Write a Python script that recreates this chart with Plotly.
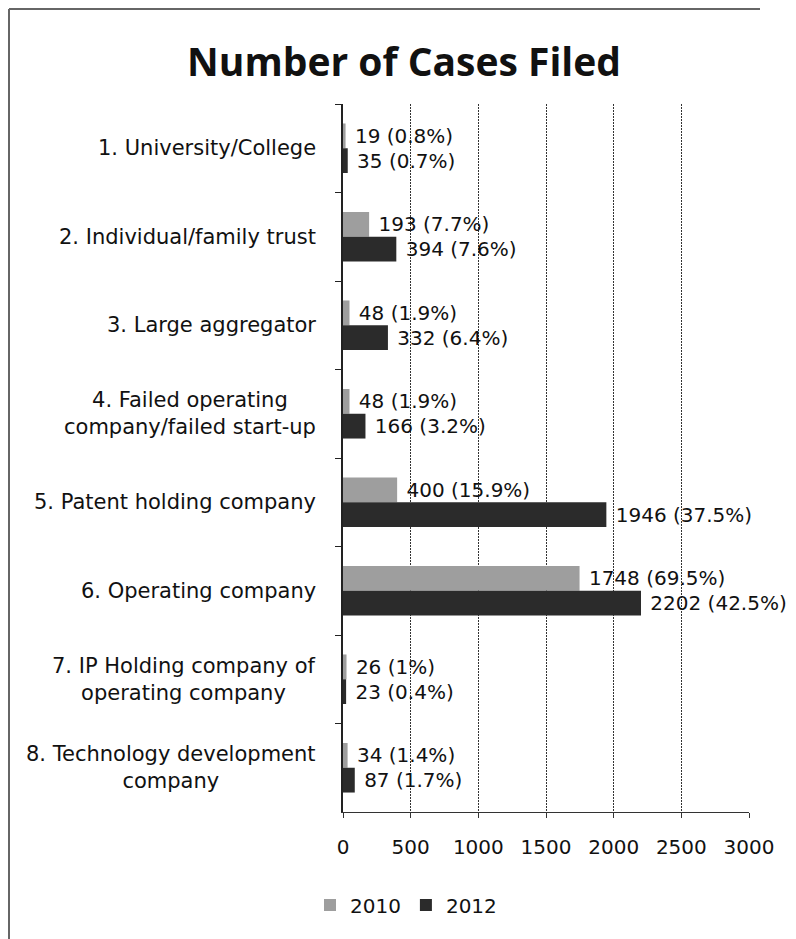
import plotly.graph_objects as go

categories = [
    "1. University/College",
    "2. Individual/family trust",
    "3. Large aggregator",
    "4. Failed operating<br>company/failed start-up",
    "5. Patent holding company",
    "6. Operating company",
    "7. IP Holding company of<br>operating company",
    "8. Technology development<br>company",
]
cases_2010 = [19, 193, 48, 48, 400, 1748, 26, 34]
pct_2010 = ["0.8%", "7.7%", "1.9%", "1.9%", "15.9%", "69.5%", "1%", "1.4%"]
cases_2012 = [35, 394, 332, 166, 1946, 2202, 23, 87]
pct_2012 = ["0.7%", "7.6%", "6.4%", "3.2%", "37.5%", "42.5%", "0.4%", "1.7%"]
x_ticks = [0, 500, 1000, 1500, 2000, 2500, 3000]

FONT = "DejaVu Sans"
TITLE_FONT = "Open Sans"
# the page body adds an 8px offset, so figure coords = screen coords - 8
W, H = 788, 931
PX0, PX1, PY0, PY1 = 335, 741, 96, 804
L, R, T, B = PX0, W - PX1, PY0, H - PY1
pw, ph = PX1 - PX0, PY1 - PY0


def fx(px):
    return (px - PX0) / pw


def fy(py):
    return (PY1 - py) / ph


NB = "\u00a0"
fig = go.Figure()
fig.add_trace(go.Bar(
    y=categories, x=cases_2010, orientation="h", name="2010",
    marker=dict(color="#9e9e9e", line=dict(width=0)),
    text=[f"{NB}{v} ({p})" for v, p in zip(cases_2010, pct_2010)],
    textposition="outside", cliponaxis=False,
    textfont=dict(family=FONT, size=20, color="#111"),
))
fig.add_trace(go.Bar(
    y=categories, x=cases_2012, orientation="h", name="2012",
    marker=dict(color="#2b2b2b", line=dict(width=0)),
    text=[f"{NB}{v} ({p})" for v, p in zip(cases_2012, pct_2012)],
    textposition="outside", cliponaxis=False,
    textfont=dict(family=FONT, size=20, color="#111"),
))

for c in categories:
    fig.add_annotation(
        x=fx(310), xref="paper", y=c, yref="y",
        text=c, showarrow=False, xanchor="right", align="center",
        font=dict(family=FONT, size=21, color="#111"),
    )

# outer frame (left and top edges)
fig.add_shape(type="line", xref="paper", yref="paper",
              x0=fx(1), x1=fx(1), y0=fy(H + 5), y1=fy(1),
              line=dict(color="#666", width=2))
fig.add_shape(type="line", xref="paper", yref="paper",
              x0=fx(1), x1=fx(752), y0=fy(1), y1=fy(1),
              line=dict(color="#666", width=2))

fig.update_layout(
    width=W, height=H,
    margin=dict(l=L, r=R, t=T, b=B),
    paper_bgcolor="white", plot_bgcolor="white",
    barmode="group", bargap=0.44, bargroupgap=0,
    title=dict(text="<b>Number of Cases Filed</b>", x=396 / W, xref="container",
               xanchor="center", y=1 - 54 / H, yref="container", yanchor="middle",
               font=dict(family=TITLE_FONT, size=39, color="#111")),
    font=dict(family=FONT, size=20, color="#111"),
    showlegend=True,
    legend=dict(orientation="h", x=fx(302), xanchor="left",
                y=fy(897), yanchor="middle",
                font=dict(family=FONT, size=20, color="#111"),
                itemwidth=30, traceorder="normal"),
    xaxis=dict(range=[0, 3000], tickvals=x_ticks, showgrid=True,
               gridcolor="#333", griddash="2px,1px", gridwidth=1,
               zeroline=False, showline=True, linecolor="#333", linewidth=1,
               ticks="outside", ticklen=5, tickcolor="#333",
               ticklabelstandoff=12,
               tickfont=dict(family=FONT, size=20, color="#111")),
    yaxis=dict(autorange="reversed", showticklabels=False,
               showline=True, linecolor="#222", linewidth=1.5,
               ticks="outside", ticklen=6, tickcolor="#222",
               tickson="boundaries", showgrid=False),
)

fig.write_html("out.html")
